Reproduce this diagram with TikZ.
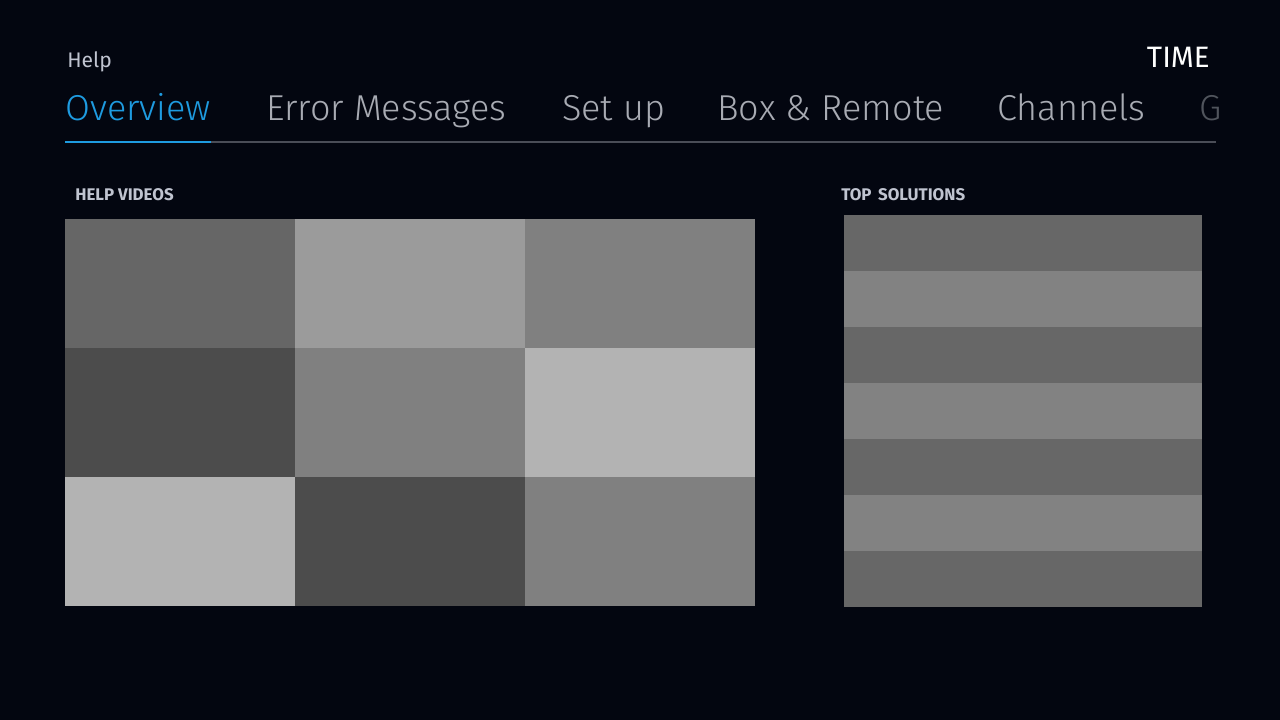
\documentclass[tikz,border=0pt]{standalone}
\usepackage{fontspec}
\setmainfont{Fira Sans}
\newfontfamily\lightfont{Fira Sans Light}
\definecolor{bg}{RGB}{3,6,16}
\definecolor{tabblue}{RGB}{30,155,224}
\definecolor{tabgray}{RGB}{168,171,179}
\definecolor{tabdim}{RGB}{80,84,92}
\definecolor{headgray}{RGB}{192,196,208}
\definecolor{rulegray}{RGB}{74,77,87}
\definecolor{tileA}{RGB}{102,102,102}
\definecolor{tileB}{RGB}{155,155,155}
\definecolor{tileC}{RGB}{128,128,128}
\definecolor{tileD}{RGB}{76,76,76}
\definecolor{tileE}{RGB}{179,179,179}
\definecolor{stripA}{RGB}{103,103,103}
\definecolor{stripB}{RGB}{130,130,130}

\begin{document}
\begin{tikzpicture}[x=0.025cm,y=-0.025cm,
  tab/.style={anchor=base west,inner sep=0pt,text=tabgray,
    font=\lightfont\fontsize{25.6}{26}\selectfont},
  head/.style={anchor=base west,inner sep=0pt,text=headgray,
    font=\bfseries\fontsize{12}{12}\selectfont}]
  \fill[bg] (0,0) rectangle (1280,720);
  \node[anchor=base west,inner sep=0pt,text=headgray,font=\fontsize{15}{15}\selectfont] (help) at (67,68) {Help};
  \node[anchor=base east,inner sep=0pt,text=white,font=\fontsize{21}{21}\selectfont] (time) at (1210,68) {TIME};
  \node[tab,text=tabblue] (overview) at (65,121) {Overview};
  \node[tab] (errors) at (266,121) {Error Messages};
  \node[tab] (setup) at (562,121) {Set up};
  \node[tab] (box) at (717,121) {Box \& Remote};
  \node[tab] (channels) at (997,121) {Channels};
  \node[tab,text=tabdim] (more) at (1199,121) {G};
  \draw[rulegray,line width=1.4pt] (65,142) -- (1216,142);
  \draw[tabblue,line width=2pt] (65,142) -- (211,142);
  \node[head] (videos) at (75,201) {HELP VIDEOS};
  \node[head] (solutions) at (841,201) {TOP\hspace{0.15em} SOLUTIONS};
  % help videos grid
  \fill[tileA] (65,219) rectangle (295,348);
  \fill[tileB] (295,219) rectangle (525,348);
  \fill[tileC] (525,219) rectangle (755,348);
  \fill[tileD] (65,348) rectangle (295,477);
  \fill[tileC] (295,348) rectangle (525,477);
  \fill[tileE] (525,348) rectangle (755,477);
  \fill[tileE] (65,477) rectangle (295,606);
  \fill[tileD] (295,477) rectangle (525,606);
  \fill[tileC] (525,477) rectangle (755,606);
  % top solutions list
  \fill[stripA] (844,215) rectangle (1202,271);
  \fill[stripB] (844,271) rectangle (1202,327);
  \fill[stripA] (844,327) rectangle (1202,383);
  \fill[stripB] (844,383) rectangle (1202,439);
  \fill[stripA] (844,439) rectangle (1202,495);
  \fill[stripB] (844,495) rectangle (1202,551);
  \fill[stripA] (844,551) rectangle (1202,607);
\end{tikzpicture}
\end{document}
